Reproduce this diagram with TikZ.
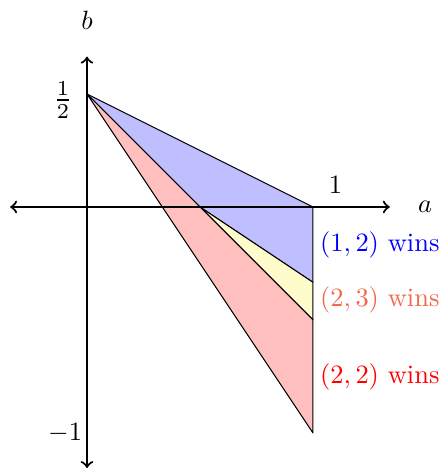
\documentclass[tikz,border=0pt]{standalone}
\definecolor{mysalmon}{RGB}{240,105,75}
\begin{document}
\begin{tikzpicture}[x=3cm,y=3cm,
  region/.style={draw=black,line width=0.4pt,line join=round},
  axis/.style={<->,thick}]
\useasboundingbox (-0.385,-1.164) rectangle (1.575,0.916);
\coordinate (O) at (0,0);
\coordinate (H) at (0,0.5);
\coordinate (A1) at (1,0);
\coordinate (M) at (0.5,0);
\coordinate (P3) at (1,-1/3);
\coordinate (P2) at (1,-0.5);
\coordinate (P1) at (1,-1);
\fill[blue!25] (H) -- (A1) -- (P3) -- (M) -- cycle;
\draw[region] (H) -- (A1) -- (P3) -- (M);
\fill[yellow!20] (M) -- (P3) -- (P2) -- cycle;
\draw[region] (M) -- (P3) -- (P2) -- cycle;
\fill[red!25] (H) -- (P2) -- (P1) -- cycle;
\draw[region] (H) -- (P2) -- (P1) -- cycle;
\coordinate (xl) at (-0.34,0);
\coordinate (xr) at (1.34,0);
\coordinate (yb) at (0,-1.155);
\coordinate (yt) at (0,0.665);
\draw[axis] (xl) -- (xr);
\draw[axis] (yb) -- (yt);
\node (la) at (1.496,0) {$a$};
\node (lb) at (0,0.827) {$b$};
\node (l1) at (1.10,0.097) {$1$};
\node[scale=1.15] (lh) at (-0.106,0.473) {$\frac12$};
\node (lm) at (-0.097,-1) {$-1$};
\node[blue] (w1) at (1.296,-0.168) {$(1,2)$ wins};
\node[mysalmon] (w2) at (1.296,-0.41) {$(2,3)$ wins};
\node[red] (w3) at (1.296,-0.752) {$(2,2)$ wins};
\end{tikzpicture}
\end{document}
